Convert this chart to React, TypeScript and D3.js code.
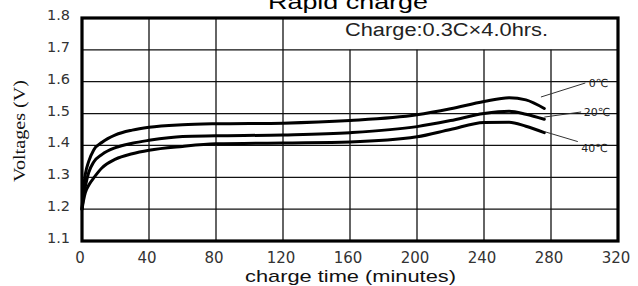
import React, { useEffect, useRef } from 'react';
import * as d3 from 'd3';

// charge time in minutes
const times = [0, 1, 2, 4, 7, 12, 20, 30, 40, 60, 80, 120, 160, 200, 220, 240, 255, 265, 276];
const volts0C = [1.2, 1.27, 1.31, 1.35, 1.386, 1.41, 1.433, 1.448, 1.457, 1.465, 1.468, 1.47, 1.478, 1.496, 1.515, 1.538, 1.55, 1.543, 1.516];
const volts20C = [1.2, 1.245, 1.272, 1.315, 1.348, 1.372, 1.393, 1.407, 1.416, 1.428, 1.43, 1.433, 1.44, 1.459, 1.478, 1.5, 1.507, 1.498, 1.482];
const volts40C = [1.2, 1.23, 1.252, 1.275, 1.298, 1.33, 1.357, 1.374, 1.385, 1.397, 1.405, 1.408, 1.411, 1.427, 1.45, 1.472, 1.473, 1.46, 1.44];

const xTicks = [0, 40, 80, 120, 160, 200, 240, 280, 320];
const yTicks = [1.1, 1.2, 1.3, 1.4, 1.5, 1.6, 1.7, 1.8];

// temperature callouts: label point and leader line (data units)
const labels = ['0℃', '20℃', '40℃'];
const labelPos = [[302.5, 1.596], [299.5, 1.505], [298, 1.393]];
const leaderFrom = [[274, 1.552], [276, 1.489], [276.3, 1.443]];
const leaderTo = [[300.5, 1.596], [298, 1.505], [296, 1.412]];

const W = 638;
const H = 286;

const App = () => {
  const ref = useRef<SVGSVGElement>(null);

  useEffect(() => {
    const svg = d3.select(ref.current);
    svg.selectAll('*').remove();

    const left = 82, right = 618, top = 18, bottom = 241;
    const x = d3.scaleLinear().domain([0, 320]).range([left, right]);
    const y = d3.scaleLinear().domain([1.1, 1.8]).range([bottom, top]);

    svg.append('rect').attr('width', W).attr('height', H).attr('fill', '#fff');

    // grid
    const grid = svg.append('g').attr('stroke', '#111').attr('stroke-width', 1.3);
    xTicks.slice(1, -1).forEach((t) => {
      grid.append('line')
        .attr('x1', x(t)).attr('x2', x(t))
        .attr('y1', t <= 120 ? y(1.8) : y(1.7)).attr('y2', y(1.1));
    });
    yTicks.slice(1, -1).forEach((v) => {
      grid.append('line')
        .attr('x1', x(0)).attr('x2', x(320))
        .attr('y1', y(v)).attr('y2', y(v));
    });

    // frame
    svg.append('rect')
      .attr('x', x(0)).attr('y', y(1.8))
      .attr('width', x(320) - x(0)).attr('height', y(1.1) - y(1.8))
      .attr('fill', 'none').attr('stroke', '#000').attr('stroke-width', 3.2);

    // curves
    const line = d3.line<number>()
      .x((_, i) => x(times[i]))
      .y((d) => y(d))
      .curve(d3.curveMonotoneX);
    [volts0C, volts20C, volts40C].forEach((s) => {
      svg.append('path')
        .attr('d', line(s))
        .attr('fill', 'none')
        .attr('stroke', '#000')
        .attr('stroke-width', 3)
        .attr('stroke-linecap', 'round');
    });

    // callouts
    labels.forEach((lab, i) => {
      svg.append('line')
        .attr('x1', x(leaderFrom[i][0])).attr('y1', y(leaderFrom[i][1]))
        .attr('x2', x(leaderTo[i][0])).attr('y2', y(leaderTo[i][1]))
        .attr('stroke', '#333').attr('stroke-width', 1);
      svg.append('text')
        .attr('x', x(labelPos[i][0])).attr('y', y(labelPos[i][1]))
        .attr('dy', '0.35em')
        .attr('font-family', 'DejaVu Sans, sans-serif')
        .attr('font-size', 11)
        .attr('fill', '#222')
        .text(lab);
    });

    // tick labels
    svg.append('g').selectAll('text').data(xTicks).enter().append('text')
      .attr('x', (d) => x(d) - 2)
      .attr('y', 263)
      .attr('text-anchor', 'middle')
      .attr('font-family', 'DejaVu Sans, sans-serif')
      .attr('font-size', 15)
      .attr('fill', '#333')
      .text((d) => d);
    svg.append('g').selectAll('text').data(yTicks).enter().append('text')
      .attr('x', 70)
      .attr('y', (d) => y(d) + 2)
      .attr('text-anchor', 'end')
      .attr('font-family', 'DejaVu Sans, sans-serif')
      .attr('font-size', 14.5)
      .attr('fill', '#333')
      .text((d) => d.toFixed(1));

    // titles
    svg.append('text')
      .attr('x', 268).attr('y', 9)
      .attr('font-family', 'Liberation Sans, Arial, sans-serif')
      .attr('font-size', 20)
      .attr('textLength', 160).attr('lengthAdjust', 'spacingAndGlyphs')
      .text('Rapid charge');
    svg.append('text')
      .attr('x', 345).attr('y', 35.5)
      .attr('font-family', 'Liberation Sans, Arial, sans-serif')
      .attr('font-size', 18)
      .attr('fill', '#222')
      .attr('textLength', 203).attr('lengthAdjust', 'spacingAndGlyphs')
      .text('Charge:0.3C×4.0hrs.');
    svg.append('text')
      .attr('x', 245).attr('y', 282)
      .attr('font-family', 'Liberation Sans, Arial, sans-serif')
      .attr('font-size', 17)
      .attr('fill', '#111')
      .attr('textLength', 211).attr('lengthAdjust', 'spacingAndGlyphs')
      .text('charge time (minutes)');
    svg.append('text')
      .attr('transform', 'translate(25,182) rotate(-90)')
      .attr('font-family', 'Liberation Serif, Times New Roman, serif')
      .attr('font-size', 17)
      .attr('fill', '#111')
      .attr('textLength', 102).attr('lengthAdjust', 'spacingAndGlyphs')
      .text('Voltages (V)');
  }, []);

  return (
    <svg ref={ref} width={W} height={H} style={{ position: 'fixed', left: 0, top: 0 }} />
  );
};

export default App;
